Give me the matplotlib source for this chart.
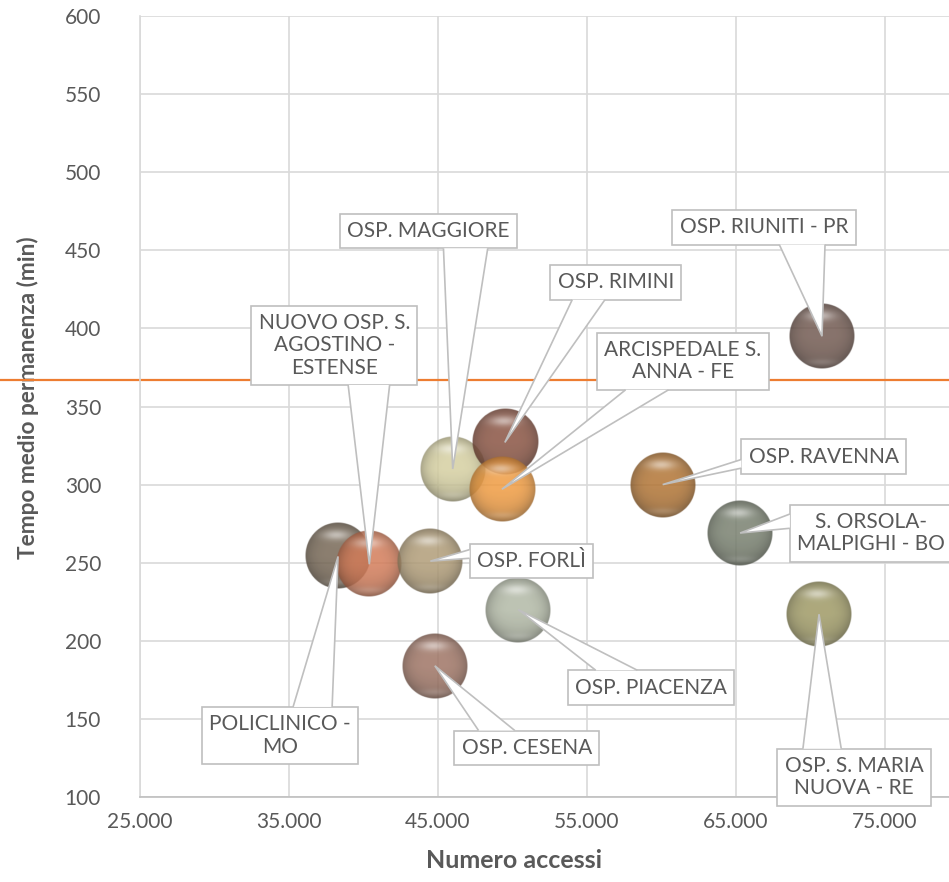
import numpy as np
import matplotlib
matplotlib.use("Agg")
import matplotlib.pyplot as plt
from matplotlib.colors import to_rgb
from matplotlib.patches import Polygon
from matplotlib.ticker import FuncFormatter, MultipleLocator
from matplotlib.transforms import blended_transform_factory

plt.rcParams['font.family'] = ['Lato', 'DejaVu Sans']

# data
ospedali = ["POLICLINICO -\nMO", "NUOVO OSP. S.\nAGOSTINO -\nESTENSE", "OSP. FORLÌ",
            "OSP. CESENA", "OSP. MAGGIORE", "OSP. RIMINI", "ARCISPEDALE S.\nANNA - FE",
            "OSP. PIACENZA", "OSP. RAVENNA", "S. ORSOLA-\nMALPIGHI - BO",
            "OSP. S. MARIA\nNUOVA - RE", "OSP. RIUNITI - PR"]
accessi = [38300, 40400, 44500, 44800, 46000, 49500, 49300, 50400, 60100, 65300, 70600, 70800]
tempo = [254, 249, 251, 184, 310, 327, 297, 220, 300, 269, 217, 395]
soglia = 367

colori = ["#776856", "#d47d5a", "#b19d78", "#9f7565", "#d6d0a2", "#8a5443",
          "#f09c42", "#b2b9a6", "#b27535", "#798170", "#9f9a66", "#735b52"]

# label offsets in pixels (dx right, dy up) from the bubble centre
offs = [(-58, -179), (-35, 219), (101, 0), (92, -82), (-24, 238), (111, 160),
        (181, 128), (133, -78), (161, 28), (131, 0), (35, -163), (-58, 109)]

W, H = 949, 882
fig = plt.figure(figsize=(W / 100, H / 100), dpi=100)
ax_l, ax_b, ax_w, ax_h = 140, 85, 819, 781
ax = fig.add_axes([ax_l / W, ax_b / H, ax_w / W, ax_h / H])

xmin, xmax, ymin, ymax = 25000, 80000, 100, 600
ax.set_xlim(xmin, xmax)
ax.set_ylim(ymin, ymax)

grey = "#595959"
gridc = "#d9d9d9"
edge = "#bfbfbf"

ax.yaxis.set_major_locator(MultipleLocator(50))
ax.set_xticks(np.arange(25000, 75001, 10000))
ax.xaxis.set_major_formatter(FuncFormatter(lambda v, p: f"{int(v):,}".replace(",", ".")))
ax.grid(True, color=gridc, lw=1.2, zorder=0)
ax.set_axisbelow(True)
for s in ["top", "right"]:
    ax.spines[s].set_visible(False)
ax.spines["left"].set_color(gridc)
ax.spines["left"].set_linewidth(1.2)
ax.spines["bottom"].set_color(edge)
ax.spines["bottom"].set_linewidth(1.2)
ax.tick_params(length=0, labelsize=15, colors=grey)
ax.tick_params(axis="y", pad=28)
ax.tick_params(axis="x", pad=11)

ax.set_xlabel("Numero accessi", fontsize=18, fontweight="bold", color=grey)
ax.xaxis.set_label_coords((514 - ax_l) / ax_w, -0.066)
ax.set_ylabel("Tempo medio permanenza (min)", fontsize=16.3, fontweight="bold", color=grey)
ax.yaxis.set_label_coords((39 - ax_l) / ax_w, 0.511)

# threshold line across the whole figure width
tr = blended_transform_factory(fig.transFigure, ax.transData)
ax.plot([0, 1], [soglia, soglia], color="#ed7d31", lw=1.6, transform=tr,
        clip_on=False, zorder=2)


def sphere(col, n=120):
    u = np.linspace(-1, 1, n)
    X, Y = np.meshgrid(u, u)
    r = np.sqrt(X ** 2 + Y ** 2)
    base = np.array(to_rgb(col))
    shade = 1 - 0.30 * r ** 4 - 0.12 * np.clip(Y, 0, None)
    img = base[None, None, :] * shade[..., None]
    hl = 0.5 * np.exp(-((X + 0.05) / 0.42) ** 2 - ((Y + 0.62) / 0.15) ** 2)
    low = 0.15 * np.exp(-(X / 0.5) ** 2 - ((Y - 0.8) / 0.1) ** 2)
    h = np.clip(hl + low, 0, 1)[..., None]
    img = img * (1 - h) + h
    alpha = np.clip((1 - r) * n / 2, 0, 1) * 0.85
    return np.dstack([np.clip(img, 0, 1), alpha])


rad = 33
rx = rad * (xmax - xmin) / ax_w
ry = rad * (ymax - ymin) / ax_h
for x, y, c in zip(accessi, tempo, colori):
    ax.imshow(sphere(c), extent=(x - rx, x + rx, y - ry, y + ry), aspect="auto",
              interpolation="bilinear", zorder=3)
ax.set_xlim(xmin, xmax)
ax.set_ylim(ymin, ymax)

labels = []
for name, x, y, (dx, dy) in zip(ospedali, accessi, tempo, offs):
    t = ax.annotate(name, xy=(x, y), xytext=(dx * 0.72, dy * 0.72), textcoords="offset points",
                    ha="center", va="center", fontsize=15, color=grey, linespacing=1.15,
                    bbox=dict(boxstyle="square,pad=0.35", fc="white", ec=edge, lw=1.2),
                    zorder=5, annotation_clip=False)
    labels.append(t)

# callout wedges (office style: base on the edge facing the bubble)
fig.canvas.draw()
rend = fig.canvas.get_renderer()
inv = ax.transData.inverted()
for t, x, y in zip(labels, accessi, tempo):
    bb = t.get_bbox_patch().get_window_extent(rend)
    tx, ty = ax.transData.transform((x, y))
    cx, cy = (bb.x0 + bb.x1) / 2, (bb.y0 + bb.y1) / 2
    dx, dy = tx - cx, ty - cy
    w, h = bb.width, bb.height
    if abs(dx) / w > abs(dy) / h:
        ex = bb.x1 if dx > 0 else bb.x0
        if dy < 0:
            a, b = (ex, bb.y1 - h * 7 / 12), (ex, bb.y1 - h * 10 / 12)
        else:
            a, b = (ex, bb.y1 - h * 2 / 12), (ex, bb.y1 - h * 5 / 12)
    else:
        ey = bb.y1 if dy > 0 else bb.y0
        if dx > 0:
            a, b = (bb.x0 + w * 7 / 12, ey), (bb.x0 + w * 10 / 12, ey)
        else:
            a, b = (bb.x0 + w * 2 / 12, ey), (bb.x0 + w * 5 / 12, ey)
    verts = inv.transform([a, (tx, ty), b])
    ax.add_patch(Polygon(verts, closed=False, fc="white", ec=edge, lw=1.2,
                         zorder=5.5, clip_on=False))

fig.savefig("out.png", dpi=100)
